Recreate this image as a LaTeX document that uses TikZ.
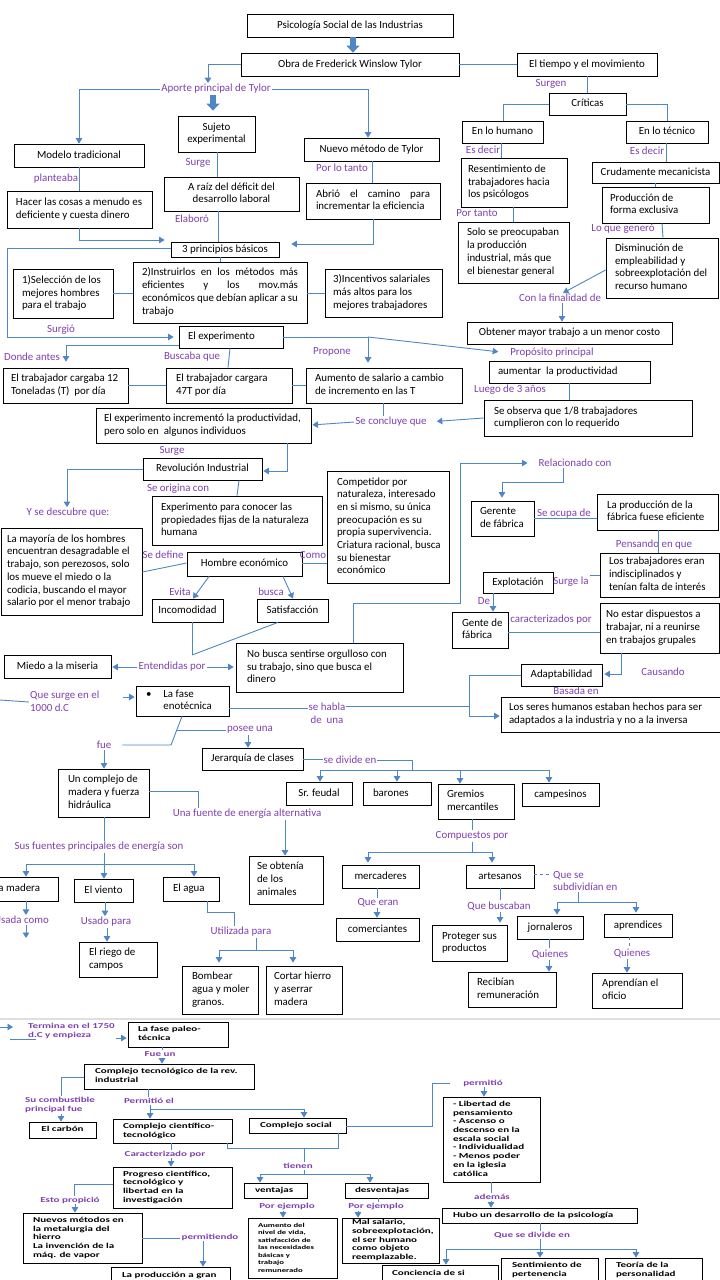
\documentclass[tikz,border=0pt]{standalone}
\usepackage{fontspec}
\setmainfont{Carlito}
\newfontfamily\sbf{Carlito}[FakeStretch=1.45]
\usetikzlibrary{arrows.meta}
\definecolor{lnc}{RGB}{79,134,198}
\definecolor{lbc}{RGB}{128,64,176}
\newcommand\fR{\fontsize{10.9}{12.7}\selectfont}
\newcommand\fB{\sbf\bfseries\fontsize{7.6}{8.7}\selectfont}
\newcommand\fS{\sbf\bfseries\fontsize{6}{7.5}\selectfont}
\newcommand\bxfont{\fR}
\tikzset{
 bxs/.style={draw=black, line width=0.8pt, fill=white, inner sep=0pt},
 lab/.style={text=lbc, inner sep=1pt, font=\fR},
 blab/.style={text=lbc, inner sep=1pt, font=\fB},
 ln/.style={draw=lnc, line width=0.9pt},
 arr/.style={ln, -{Triangle[width=6.5pt,length=5.5pt]}},
 fat/.style={draw=lnc, line width=6pt, -{Triangle[width=13pt,length=7pt]}},
}
\newcommand\bx[8][l]{%
  \pgfmathsetmacro\bxw{(#5)-(#3)}%
  \pgfmathsetmacro\bxh{(#6)-(#4)}%
  \pgfmathsetmacro\bxcx{((#3)+(#5))/2}%
  \pgfmathsetmacro\bxcy{((#4)+(#6))/2}%
  \pgfmathsetmacro\bxtw{(#5)-(#3)-2*(#7)}%
  \node[bxs,minimum width=\bxw pt,minimum height=\bxh pt] (#2) at (\bxcx,\bxcy)
    {\bxfont\makebox[\bxtw pt][#1]{\begin{tabular}{@{}#1@{}}#8\end{tabular}}};}
\begin{document}
\begin{tikzpicture}[x=1pt,y=-1pt]
\useasboundingbox (0,0) rectangle (720,1280);
\fill[white] (0,0) rectangle (720,1280);
\draw[gray!25,line width=1.2pt] (0,1019) -- (720,1019);
% ---------- boxes top ----------
\bx[c]{psi}{247}{14}{453}{37}{0}{Psicología Social de las Industrias}
\bx[c]{obra}{241}{53}{459}{76}{0}{Obra de Frederick Winslow Tylor}
\bx[c]{tiempo}{517}{53}{657}{76}{0}{El tiempo y el movimiento}
\bx[c]{criticas}{549}{93}{626}{115}{0}{Críticas}
\bx[c]{humano}{462}{121}{543}{143}{0}{En lo humano}
\bx[c]{tecnico}{626}{121}{708}{143}{0}{En lo técnico}
\bx{resent}{461}{158}{567}{207}{7}{Resentimiento de\\trabajadores hacia\\los psicólogos}
\bx{solo}{458}{222}{569}{283}{9}{Solo se preocupaban\\la producción\\industrial, más que\\el bienestar general}
\bx[c]{crud}{592}{162}{719}{183}{0}{Crudamente mecanicista}
\bx{prodex}{602}{187}{709}{223}{8}{Producción de\\forma exclusiva}
\bx{dismin}{606}{238}{718}{298}{9}{Disminución de\\empleabilidad y\\sobreexplotación del\\recurso humano}
\bx[c]{obtener}{467}{322}{672}{344}{0}{Obtener mayor trabajo a un menor costo}
\bx[c]{modelo}{14}{144}{144}{167}{0}{Modelo tradicional}
\bx{hacer}{7}{191}{152}{228}{9}{Hacer las cosas a menudo es\\deficiente y cuesta dinero}
\bx[c]{sujeto}{178}{116}{255}{152}{0}{Sujeto\\experimental}
\bx[c]{araiz}{164}{177}{299}{211}{0}{A raíz del déficit del\\desarrollo laboral}
\bx[c]{nuevo}{304}{138}{439}{161}{0}{Nuevo método de Tylor}
\bx{abrio}{306}{183}{440}{219}{10}{\makebox[114pt][s]{Abrió el camino para}\\incrementar la eficiencia}
\bx[c]{tres}{171}{242}{279}{257}{0}{3 principios básicos}
\bx{uno}{13}{269}{113}{318}{9}{1)Selección de los\\mejores hombres\\para el trabajo}
\bx{dos}{133}{262}{307}{323}{9}{\makebox[156pt][s]{2)Instruirlos en los métodos más}\\\makebox[156pt][s]{eficientes y los mov.más}\\\makebox[156pt][s]{económicos que debían aplicar a su}\\trabajo}
\bx{tresi}{325}{269}{442}{317}{8}{3)Incentivos salariales\\más altos para los\\mejores trabajadores}
\bx{exper}{179}{326}{283}{348}{9}{El experimento}
\bx{cargaba}{3}{368}{128}{403}{8}{El trabajador cargaba 12\\Toneladas (T)~ por día}
\bx{cargara}{166}{368}{292}{403}{10}{El trabajador cargara\\47T por día}
\bx{aumento}{306}{368}{462}{403}{9}{Aumento de salario a cambio\\de incremento en las T}
\bx{aument2}{489}{361}{650}{383}{9}{aumentar~ la productividad}
\bx{observa}{484}{400}{692}{436}{10}{Se observa que 1/8 trabajadores\\cumplieron con lo requerido}
\bx{incremento}{96}{408}{311}{443}{8}{El experimento incrementó la productividad,\\pero solo en~ algunos individuos}
\bx[c]{revol}{143}{458}{262}{480}{0}{Revolución Industrial}
\bx{expnat}{152}{496}{322}{545}{9}{Experimento para conocer las\\propiedades fijas de la naturaleza\\humana}
\bx{compet}{327}{471}{449}{583}{10}{Competidor por\\naturaleza, interesado\\en si mismo, su única\\preocupación es su\\propia supervivencia.\\Criatura racional, busca\\su bienestar\\económico}
\bx{mayoria}{1}{528}{142}{615}{6}{La mayoría de los hombres\\encuentran desagradable el\\trabajo, son perezosos, solo\\los mueve el miedo o la\\codicia, buscando el mayor\\salario por el menor trabajo}
\bx[c]{hombre}{187}{552}{302}{576}{0}{Hombre económico}
\bx[c]{incom}{152}{599}{223}{622}{0}{Incomodidad}
\bx[c]{satisf}{257}{599}{328}{622}{0}{Satisfacción}
\bx[c]{miedo}{4}{655}{111}{678}{0}{Miedo a la miseria}
\bx{nobusca}{236}{643}{403}{692}{11}{No busca sentirse orgulloso con\\su trabajo, sino que busca el\\dinero}
\bx{gerente}{471}{501}{534}{536}{9}{Gerente\\de fábrica}
\bx{laprod}{597}{494}{718}{530}{10}{La producción de la\\fábrica fuese eficiente}
\bx{lostrab}{600}{553}{719}{597}{9}{Los trabajadores eran\\indisciplinados y\\tenían falta de interés}
\bx[c]{explot}{483}{572}{553}{593}{0}{Explotación}
\bx{gente}{452}{612}{508}{648}{10}{Gente de\\fábrica}
\bx{noestar}{600}{603}{719}{653}{6}{No estar dispuestos a\\trabajar, ni a reunirse\\en trabajos grupales}
\bx[c]{adapt}{521}{664}{602}{686}{0}{Adaptabilidad}
\bx{losseres}{501}{697}{724}{732}{8}{Los seres humanos estaban hechos para ser\\adaptados a la industria y no a la inversa}
\bx{enot}{136}{686}{229}{716}{10}{•\hspace{12pt}La fase\\\phantom{•}\hspace{12pt}enotécnica}
\bx[c]{jerarq}{202}{748}{303}{770}{0}{Jerarquía de clases}
\bx[c]{srfeudal}{286}{782}{352}{805}{0}{Sr. feudal}
\bx{barones}{363}{782}{431}{805}{10}{barones}
\bx{gremios}{438}{784}{514}{819}{9}{Gremios\\mercantiles}
\bx[c]{campes}{522}{783}{599}{806}{0}{campesinos}
\bx{complejo}{58}{769}{149}{817}{10}{Un complejo de\\madera y fuerza\\hidráulica}
\bx{obtenia}{249}{856}{323}{904}{8}{Se obtenía\\de los\\animales}
\bx[c]{madera}{-22}{877}{58}{901}{0}{la madera}
\bx[c]{viento}{74}{879}{133}{902}{0}{El viento}
\bx{agua}{163}{877}{219}{901}{10}{El agua}
\bx{riego}{79}{942}{157}{977}{10}{El riego de\\campos}
\bx{bombear}{182}{966}{258}{1014}{10}{Bombear\\agua y moler\\granos.}
\bx{cortar}{266}{966}{342}{1014}{8}{Cortar hierro\\y aserrar\\madera}
\bx[c]{mercad}{342}{865}{419}{888}{0}{mercaderes}
\bx[c]{comerc}{336}{918}{419}{941}{0}{comerciantes}
\bx[c]{artes}{466}{865}{534}{888}{0}{artesanos}
\bx{proteger}{432}{925}{507}{961}{10}{Proteger sus\\productos}
\bx[c]{jornal}{517}{916}{583}{939}{0}{jornaleros}
\bx[c]{aprend}{604}{914}{672}{937}{0}{aprendices}
\bx{recib}{468}{972}{556}{1007}{9}{Recibían\\remuneración}
\bx{aprendian}{592}{973}{682}{1008}{10}{Aprendían el\\oficio}
% ---------- boxes bottom ----------
\renewcommand\bxfont{\fB}
\bx{paleo}{128}{1022}{228}{1047}{10}{La fase paleo-\\técnica}
\bx{comptec}{84}{1064}{254}{1089}{11}{Complejo tecnológico de la rev.\\industrial}
\bx[c]{carbon}{29}{1122}{96}{1138}{0}{El carbón}
\bx{compcien}{113}{1119}{232}{1143}{10}{Complejo científico-\\tecnológico}
\bx{compsoc}{249}{1118}{346}{1133}{11}{Complejo social}
\bx{libertad}{443}{1097}{540}{1182}{10}{- Libertad de\\pensamiento\\- Ascenso o\\descenso en la\\escala social\\- Individualidad\\- Menos poder\\en la iglesia\\católica}
\bx{hubo}{442}{1208}{637}{1223}{11}{Hubo un desarrollo de la psicología}
\bx{concien}{382}{1265}{498}{1283}{10}{Conciencia de si}
\bx{sentim}{501}{1258}{598}{1282}{11}{Sentimiento de\\pertenencia}
\bx{teoria}{605}{1258}{702}{1282}{11}{Teoría de la\\personalidad}
\bx{ventajas}{244}{1183}{307}{1198}{11}{ventajas}
\bx{desvent}{345}{1183}{428}{1198}{10}{desventajas}
\bx{progreso}{113}{1167}{232}{1208}{10}{Progreso científico,\\tecnológico y\\libertad en la\\investigación}
\bx{nuevos}{23}{1213}{142}{1263}{10}{Nuevos métodos en\\la metalurgia del\\hierro\\La invención de la\\máq. de vapor}
\bx{laprodg}{111}{1267}{230}{1284}{11}{La producción a gran}
\bx{malsal}{342}{1218}{439}{1263}{10}{Mal salario,\\sobreexplotación,\\el ser humano\\como objeto\\reemplazable.}
\renewcommand\bxfont{\fS}
\bx{aumvida}{248}{1218}{337}{1278}{10}{Aumento del\\nivel de vida,\\satisfacción de\\las necesidades\\básicas y\\trabajo\\remunerado}
\renewcommand\bxfont{\fR}
% ---------- labels top ----------
\node[lab] (aporte) at (216,89) {Aporte principal de Tylor};
\node[lab] (planteaba) at (56,179) {planteaba};
\node[lab] (surge1) at (198,163) {Surge};
\node[lab] (porlotanto) at (342,168) {Por lo tanto};
\node[lab] (elaboro) at (192,219) {Elaboró};
\node[lab] (surgen) at (551,84) {Surgen};
\node[lab] (esdecir1) at (483,150) {Es decir};
\node[lab] (esdecir2) at (647,151) {Es decir};
\node[lab] (portanto) at (477,213) {Por tanto};
\node[lab] (loquegenero) at (623,229) {Lo que generó};
\node[lab] (finalidad) at (560,298) {Con la finalidad de};
\node[lab] (surgio) at (61,330) {Surgió};
\node[lab] (donde) at (32,357) {Donde antes};
\node[lab] (buscaba) at (192,357) {Buscaba que};
\node[lab] (propone) at (332,352) {Propone};
\node[lab] (proposito) at (552,353) {Propósito principal};
\node[lab] (luego) at (510,390) {Luego de 3 años};
\node[lab] (concl) at (391,422) {Se concluye que};
\node[lab] (surge2) at (172,451) {Surge};
\node[lab] (origina) at (178,489) {Se origina con};
\node[lab] (descubre) at (68,513) {Y se descubre que:};
\node[lab] (sedefine) at (163,555) {Se define};
\node[lab] (como) at (313,555) {Como};
\node[lab] (evita) at (180,592) {Evita};
\node[lab] (busca) at (271,592) {busca};
\node[lab] (entend) at (172,667) {Entendidas por};
\node[lab] (relac) at (575,463) {Relacionado con};
\node[lab] (seocupa) at (564,514) {Se ocupa de};
\node[lab] (pensando) at (654,545) {Pensando en que};
\node[lab] (surgela) at (571,582) {Surge la};
\node[lab] (de) at (484,601) {De};
\node[lab] (caract1) at (551,620) {caracterizados por};
\node[lab] (causando) at (663,672) {Causando};
\node[lab] (basada) at (576,691) {Basada en};
\node[lab,align=left,anchor=west] (surge1000) at (29,701) {Que surge en el\\1000 d.C};
\node[lab,align=center] (sehabla) at (327,713) {se habla\\de~ una};
\node[lab] (posee) at (250,730) {posee una};
\node[lab] (fue) at (104,745) {fue};
\node[lab] (sedivide) at (350,760) {se divide en};
\node[lab] (fuente) at (247,814) {Una fuente de energía alternativa};
\node[lab] (compuestos) at (472,836) {Compuestos por};
\node[lab] (fuentes) at (99,847) {Sus fuentes principales de energía son};
\node[lab,anchor=east] (usadacomo) at (50,920) {Usada como};
\node[lab] (usadopara) at (106,922) {Usado para};
\node[lab] (utiliz) at (241,932) {Utilizada para};
\node[lab] (queeran) at (378,903) {Que eran};
\node[lab] (quebusc) at (499,906) {Que buscaban};
\node[lab,align=left,anchor=west] (subdiv) at (552,881) {Que se\\subdividían en};
\node[lab] (quien1) at (550,954) {Quienes};
\node[lab] (quien2) at (632,953) {Quienes};
% ---------- labels bottom ----------
\node[blab,align=left,anchor=west] (termina) at (27,1031) {Termina en el 1750\\d.C y empieza};
\node[blab] (fueun) at (160,1054) {Fue un};
\node[blab,align=left,anchor=west] (sucomb) at (24,1105) {Su combustible\\principal fue};
\node[blab] (permel) at (149,1101) {Permitió el};
\node[blab] (permitio) at (483,1083) {permitió};
\node[blab] (caract) at (165,1154) {Caracterizado por};
\node[blab] (tienen) at (298,1166) {tienen};
\node[blab] (estoprop) at (70,1200) {Esto propició};
\node[blab] (permitiendo) at (210,1237) {permitiendo};
\node[blab] (ademas) at (492,1197) {además};
\node[blab] (quediv) at (532,1235) {Que se divide en};
\node[blab] (porej1) at (287,1206) {Por ejemplo};
\node[blab] (porej2) at (376,1206) {Por ejemplo};
% ---------- connectors top ----------
\draw[fat] (psi.south -| 353,0) -- (obra.north -| 353,0);
\draw[fat,shorten >=5pt] (aporte.south -| 213,0) -- (sujeto.north -| 213,0);
\draw[ln] (obra.east) -- (tiempo.west);
\draw[arr] (obra.west) -| (aporte.north -| 208,0);
\draw[arr] (aporte.west) -| (modelo.north -| 79,0);
\draw[arr] (aporte.east) -| (nuevo.north -| 368,0);
\draw[ln] (modelo.south -| 79,0) -- (hacer.north -| 79,0);
\draw[ln] (sujeto.south -| 217,0) -- (araiz.north -| 217,0);
\draw[ln] (nuevo.south -| 372,0) -- (abrio.north -| 372,0);
\draw[ln] (araiz.south -| 218,0) -- (tres.north -| 218,0);
\draw[arr,shorten >=6pt] (hacer.south -| 79,0) |- (tres.west |- 0,240);
\draw[arr,shorten >=12pt] (abrio.south -| 373,0) |- (tres.east |- 0,244);
\draw[arr,shorten >=5pt] (tres.west |- 0,248) -| (7,337) -- (exper.west |- 0,337);
\draw[ln] (tres.south -| 220,0) -- (dos.north -| 220,0);
\draw[ln] (uno.east) -- (uno.east -| dos.west);
\draw[ln] (dos.east |- tresi.west) -- (tresi.west);
\draw[ln] (tiempo.south -| 587,0) -- (criticas.north -| 587,0);
\draw[ln] (criticas.west) -| (humano.north -| 503,0);
\draw[ln] (criticas.east) -| (tecnico.north -| 667,0);
\draw[ln] (humano.south -| 501,0) -- (resent.north -| 501,0);
\draw[ln] (tecnico.south -| 666,0) -- (crud.north -| 666,0);
\draw[ln] (resent.south -| 513,0) -- (solo.north -| 513,0);
\draw[ln] (crud.south -| 655,0) -- (prodex.north -| 655,0);
\draw[ln] (prodex.south -| 662,0) -- (dismin.north -| 663,0);
\draw[arr] (dismin.west |- 0,270) -- (finalidad.north -| 563,0);
\draw[arr] (finalidad.south -| 562,0) -- (obtener.north -| 562,0);
\draw[arr,shorten >=6pt] (exper.west |- 0,345) -| (cargaba.north -| 66,0);
\draw[ln] (exper.south -| 230,0) -- (cargara.north -| 228,0);
\draw[ln] (cargaba.east) -- (cargaba.east -| cargara.west);
\draw[ln] (cargara.east) -- (cargara.east -| aumento.west);
\coordinate (jP) at (368,337);
\draw[ln] (exper.east |- jP) -- (jP);
\draw[arr,shorten >=5pt] (jP) -- (aumento.north -| jP);
\draw[arr,shorten >=11pt] (jP) -- (proposito.west);
\draw[ln] (aument2.south -| 569,0) -- (observa.north -| 569,0);
\draw[arr,shorten >=9pt] (observa.west |- 0,418) -- (concl.east);
\draw[arr,shorten >=1pt] (concl.west) -- (incremento.east |- 0,425);
\draw[ln] (aumento.south -| 383,0) -- (concl.north -| 383,0);
\draw[arr,shorten >=1pt] (incremento.south -| 287,0) |- (revol.east |- 0,471);
\draw[arr] (revol.west |- 0,469) -| (descubre.north -| 67,0);
\draw[ln] (revol.south -| 239,0) -- (expnat.north -| 237,0);
\draw[ln] (hombre.west |- 0,563) -- (mayoria.east |- 0,572);
\draw[ln] (hombre.east |- 0,563) -- (compet.west |- 0,563);
\draw[arr] (hombre.south -| 209,0) -- (incom.north -| 193,0);
\draw[arr] (hombre.south -| 283,0) -- (satisf.north -| 293,0);
\coordinate (jE) at (192,655);
\draw[ln] (incom.south -| jE) -- (jE);
\draw[ln] (satisf.south -| 278,0) -- (jE);
\draw[arr,shorten >=1pt] (entend.west) -- (miedo.east |- entend.west);
\draw[arr,shorten >=2pt] (entend.east) -- (nobusca.west |- entend.east);
\draw[arr,shorten >=10pt] (nobusca.north -| 353,0) |- (460,603) |- (relac.west);
\draw[arr,shorten >=3pt] (relac.south -| 563,0) |- (502,482) -- (gerente.north -| 502,0);
\draw[ln] (gerente.east |- 0,518) -- (laprod.west |- 0,518);
\draw[ln] (laprod.south -| 658,0) -- (lostrab.north -| 658,0);
\draw[ln] (surgela.east |- 0,575) -- (lostrab.west |- 0,575);
\draw[arr] (explot.south -| 493,0) -- (gente.north -| 493,0);
\draw[ln] (gente.east |- 0,632) -- (noestar.west |- 0,632);
\draw[arr,shorten >=2pt] (noestar.south -| 621,0) |- (adapt.east |- 0,674);
\draw[arr,shorten >=1pt] (adapt.west |- 0,675) -| (469,716) -- (losseres.west |- 0,716);
\coordinate (jA) at (469,706);
\draw[ln] (enot.east |- 0,708) -- (sehabla.west |- 0,708);
\draw[ln] (sehabla.east |- 0,706) -- (jA);
\coordinate (lEdge) at (0,700);
\draw[ln] (lEdge) -- (surge1000.west |- 0,702);
\coordinate (s1000) at (123,697);
\draw[arr,shorten >=1pt] (s1000) -- (enot.west |- s1000);
\coordinate (jF) at (177,730);
\draw[ln] (enot.south -| 182,0) -- (171,745) -- ([xshift=10pt]fue.east);
\draw[ln] (jF) -- (posee.west |- jF);
\draw[arr] (posee.south -| 248,0) -- (jerarq.north -| 248,0);
\draw[arr] (fue.south -| 104,0) -- (complejo.north -| 104,0);
\draw[ln] (jerarq.east) -- (sedivide.west |- jerarq.east);
\coordinate (jD) at (412,770);
\draw[ln] (sedivide.east) -| (jD);
\draw[arr] (jD) -| (srfeudal.north -| 320,0);
\draw[arr] (jD) -| (campes.north -| 549,0);
\draw[arr] (jD -| barones.north) -- (barones.north);
\draw[arr] (jD -| 460,0) -- (gremios.north -| 460,0);
\draw[ln] (complejo.east |- 0,791) -| (fuente.north -| 198,0);
\draw[arr] (fuente.south -| 285,0) -- (obtenia.north -| 285,0);
\draw[ln] (gremios.south -| 472,0) -- (compuestos.north -| 472,0);
\coordinate (jC) at (472,852);
\draw[ln] (compuestos.south -| jC) -- (jC);
\draw[arr,shorten >=2pt] (jC) -| (mercad.north -| 368,0);
\draw[arr,shorten >=2pt] (jC) -| (artes.north -| 492,0);
\draw[ln] (complejo.south -| 104,0) -- (fuentes.north -| 104,0);
\coordinate (jG) at (104,864);
\draw[ln] (fuentes.south -| jG) -- (jG);
\draw[arr] (jG) -| (madera.north -| 26,0);
\draw[arr] (jG) -- (viento.north -| jG);
\draw[arr] (jG) -| (agua.north -| 194,0);
\draw[arr] (madera.south -| 26,0) -- (usadacomo.north -| 26,0);
\coordinate (mEnd) at (26,938);
\draw[arr] (usadacomo.south -| mEnd) -- (mEnd);
\draw[arr] (viento.south -| 105,0) -- (usadopara.north -| 105,0);
\draw[arr] (usadopara.south -| 107,0) -- (riego.north -| 107,0);
\draw[ln] (agua.south -| 207,0) |- (234,912) -- (utiliz.north -| 234,0);
\coordinate (jH) at (256,950);
\draw[ln] (utiliz.south -| jH) -- (jH);
\draw[arr,shorten >=3pt] (jH) -| (bombear.north -| 219,0);
\draw[arr,shorten >=3pt] (jH) -| (cortar.north -| 293,0);
\draw[ln] (mercad.south -| 377,0) -- (queeran.north -| 377,0);
\draw[arr] (queeran.south -| 377,0) -- (comerc.north -| 377,0);
\draw[ln] (artes.south -| 500,0) -- (quebusc.north -| 500,0);
\draw[arr,shorten >=2pt] (quebusc.south -| 500,0) -- (proteger.north -| 500,0);
\draw[ln,dashed] (artes.east |- 0,874) -- (subdiv.west |- 0,874);
\coordinate (jJ) at (578,902);
\draw[ln] (subdiv.south -| jJ) -- (jJ);
\draw[arr,shorten >=1pt] (jJ) -| (jornal.north -| 557,0);
\draw[arr,shorten >=1pt] (jJ) -| (aprend.north -| 636,0);
\draw[ln] (jornal.south -| 549,0) -- (quien1.north -| 549,0);
\draw[arr] (quien1.south -| 549,0) -- (recib.north -| 549,0);
\draw[ln,dashed] (aprend.south -| 629,0) -- (quien2.north -| 629,0);
\draw[arr] (quien2.south -| 627,0) -- (aprendian.north -| 627,0);
% ---------- connectors bottom ----------
\coordinate (tStart) at (0,1027);
\draw[arr,shorten >=14pt] (tStart) -- (termina.west |- tStart);
\coordinate (uA) at (10,1039);
\coordinate (uB) at (36,1039);
\draw[ln,line width=0.6pt] (uA) -- (uB);
\draw[arr,shorten >=1pt] (termina.east |- 0,1038) -- (paleo.west |- 0,1038);
\draw[ln] (paleo.south -| 162,0) -- (fueun.north -| 162,0);
\draw[arr] (fueun.south -| 162,0) -- (comptec.north -| 162,0);
\draw[ln] (comptec.west |- 0,1077) -| (sucomb.north -| 61,0);
\draw[arr] (sucomb.south -| 61,0) -- (carbon.north -| 61,0);
\draw[ln] (comptec.south -| 148,0) -- (permel.north -| 148,0);
\coordinate (jK) at (150,1109);
\coordinate (jK2) at (304,1109);
\draw[ln] (permel.south -| jK) -- (jK) -- (jK2);
\draw[arr] (jK) -- (compcien.north -| jK);
\draw[arr] (jK2) -- (compsoc.north -| jK2);
\draw[ln] (compsoc.east |- 0,1126) -| ([xshift=-30pt]permitio.west) -- ([xshift=-12pt]permitio.west);
\draw[arr] (permitio.south -| 484,0) -- (libertad.north -| 484,0);
\draw[ln] (libertad.south -| 491,0) -- (ademas.north -| 491,0);
\draw[arr] (ademas.south -| 491,0) -- (hubo.north -| 491,0);
\draw[ln] (hubo.south -| 540,0) -- (quediv.north -| 540,0);
\coordinate (jL) at (540,1249);
\draw[ln] (quediv.south -| jL) -- (jL);
\draw[arr] (jL) -| (concien.north -| 446,0);
\draw[arr] (jL) -- (sentim.north -| jL);
\draw[arr] (jL) -| (teoria.north -| 636,0);
\coordinate (jM) at (304,1148);
\draw[ln] (compcien.south -| 227,0) |- (338,1148) -- (compsoc.south -| 338,0);
\draw[ln] (jM) -- (tienen.north -| jM);
\coordinate (jN) at (304,1174);
\draw[ln] (tienen.south -| jN) -- (jN);
\draw[arr] (jN) -| (ventajas.north -| 260,0);
\draw[arr] (jN) -| (desvent.north -| 370,0);
\draw[ln] (compcien.south -| 171,0) -- (caract.north -| 171,0);
\draw[arr] (caract.south -| 171,0) -- (progreso.north -| 171,0);
\draw[ln] (progreso.west |- 0,1184) -| (estoprop.north -| 74,0);
\draw[arr] (estoprop.south -| 75,0) -- (nuevos.north -| 75,0);
\draw[ln] (nuevos.east |- 0,1238) -- (permitiendo.west |- 0,1238);
\draw[arr] (permitiendo.south -| 203,0) -- (laprodg.north -| 203,0);
\draw[arr] (porej1.south -| 283,0) -- (aumvida.north -| 283,0);
\draw[ln] (desvent.south -| 378,0) -- (porej2.north -| 378,0);
\draw[arr] (porej2.south -| 358,0) -- (malsal.north -| 358,0);
\end{tikzpicture}
\end{document}
